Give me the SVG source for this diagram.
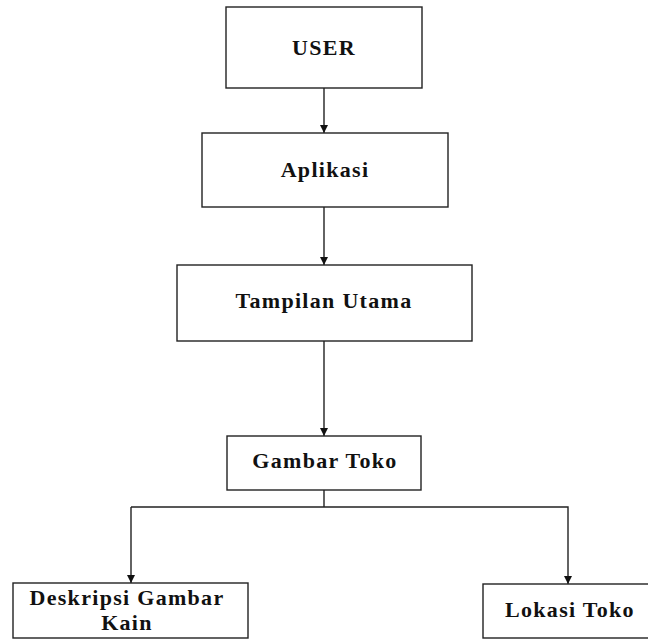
<svg xmlns="http://www.w3.org/2000/svg" width="648" height="639" viewBox="0 0 648 639">
<style>
.box{fill:#fff;stroke:#222;stroke-width:1.4}
.t{font-family:"Liberation Serif","Times New Roman",serif;font-weight:bold;font-size:22px;letter-spacing:1.3px;fill:#111;text-anchor:middle}
.c{fill:none;stroke:#222;stroke-width:1.4}
</style>
<defs>
<marker id="ah" viewBox="0 0 10 10" refX="10" refY="5" markerWidth="8" markerHeight="8" markerUnits="userSpaceOnUse" orient="auto">
<path d="M0,0 L10,5 L0,10 Z" fill="#111"/>
</marker>
</defs>
<rect width="648" height="639" fill="#fff"/>
<g id="connectors">
<line class="c" x1="324" y1="88" x2="324" y2="133" marker-end="url(#ah)"/>
<line class="c" x1="324" y1="207" x2="324" y2="265" marker-end="url(#ah)"/>
<line class="c" x1="324" y1="341" x2="324" y2="436" marker-end="url(#ah)"/>
<polyline class="c" points="324,490 324,507"/>
<polyline class="c" points="131,507 568,507 568,584" marker-end="url(#ah)"/>
<line class="c" x1="131" y1="507" x2="131" y2="583" marker-end="url(#ah)"/>
</g>
<g id="user">
<rect class="box" x="226" y="7" width="196" height="81"/>
<text class="t" x="324" y="55">USER</text>
</g>
<g id="aplikasi">
<rect class="box" x="202" y="133" width="246" height="74"/>
<text class="t" x="325" y="177">Aplikasi</text>
</g>
<g id="tampilan">
<rect class="box" x="177" y="265" width="295" height="76"/>
<text class="t" x="324" y="308">Tampilan Utama</text>
</g>
<g id="gambar">
<rect class="box" x="227" y="436" width="194" height="54"/>
<text class="t" x="325" y="468">Gambar Toko</text>
</g>
<g id="deskripsi">
<rect class="box" x="13" y="583" width="235" height="55"/>
<text class="t" x="127" y="605">Deskripsi Gambar</text>
<text class="t" x="127" y="630">Kain</text>
</g>
<g id="lokasi">
<rect class="box" x="483" y="584" width="166" height="54"/>
<text class="t" x="570" y="617">Lokasi Toko</text>
</g>
</svg>
